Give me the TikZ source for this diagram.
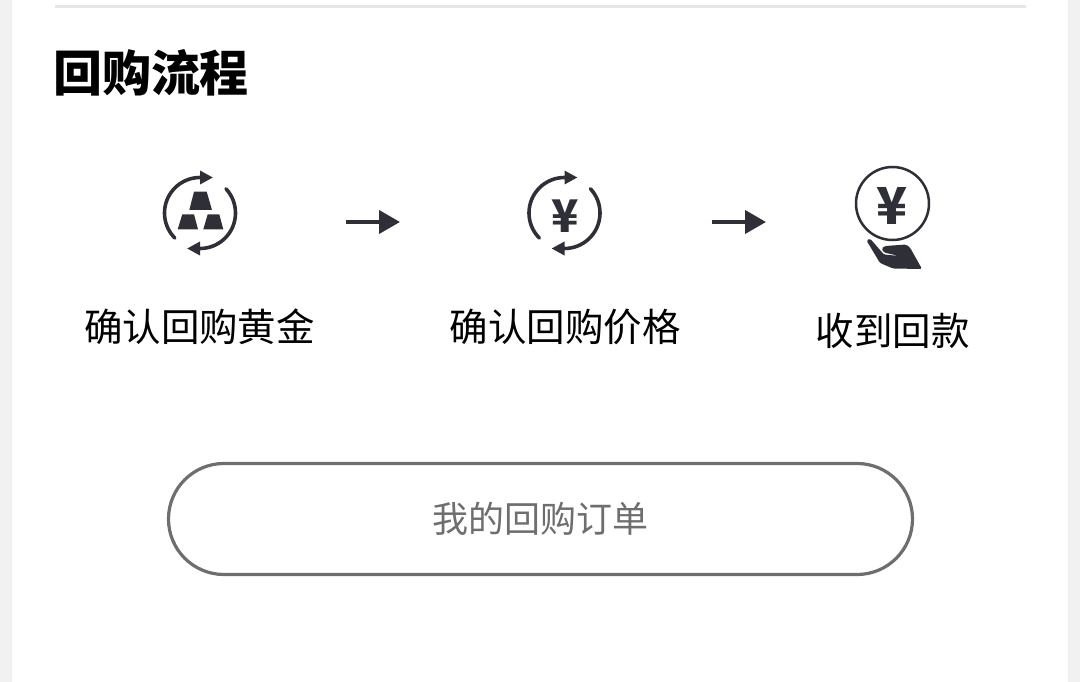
\documentclass[tikz,border=0pt]{standalone}
\usepackage{fontspec}
\setmainfont{Noto Sans CJK SC}
\usetikzlibrary{arrows.meta}
\definecolor{inkdark}{HTML}{2F2F38}
\definecolor{sidegray}{HTML}{F1F1F1}
\definecolor{rulegray}{HTML}{E6E6E6}
\definecolor{btngray}{HTML}{6E6E6E}
\tikzset{
  every node/.style={inner sep=0pt},
  stage/.style={font=\fontsize{38.5}{38.5}\selectfont, text=black},
  flowarrow/.style={inkdark, line width=4pt, -{Triangle[length=21pt,width=23pt]}},
  ringarc/.style={inkdark, line width=3.6pt, line cap=round, -{Triangle[length=13pt,width=13pt]}},
  yuan/.style={font=\fontsize{#1}{#1}\selectfont\bfseries, text=inkdark}
}

\begin{document}
\begin{tikzpicture}[x=1pt,y=-1pt]
  \useasboundingbox (0,0) rectangle (1080,682);
  \fill[sidegray] (0,0) rectangle (12,682);
  \fill[sidegray] (1068,0) rectangle (1080,682);
  \draw[rulegray, line width=3pt] (55,7) -- (1026,7);
  \node (title) at (151,73) {\fontsize{49}{49}\selectfont\bfseries 回购流程};

  % the two ring icons
  \foreach \cx/\nm in {200/gold,564.5/price} {
    \coordinate (\nm) at (\cx,213);
    \draw[ringarc] (\nm) ++(225:35.5pt) arc[start angle=225,end angle=90,radius=35.5pt] -- ++(13pt,0pt);
    \draw[ringarc] (\nm) ++(43:35.5pt) arc[start angle=43,end angle=-90,radius=35.5pt] -- ++(-13pt,0pt);
  }
  \fill[inkdark] (194,191.7) -- (206.7,191.7) -- (212,210) -- (189.3,210) -- cycle;
  \fill[inkdark] (182.3,214.3) -- (194,214.3) -- (198,229.3) -- (177.7,229.3) -- cycle;
  \fill[inkdark] (207.7,214.3) -- (219.3,214.3) -- (223.3,229.3) -- (203.3,229.3) -- cycle;
  \node[yuan=45] (yuanb) at (565,216) {¥};

  % coin in the hand
  \node[draw=inkdark, line width=2.5pt, circle, minimum size=73pt] (coin) at (892.5,203.5) {};
  \node[yuan=51] (yuanc) at (892.5,206) {¥};
  \fill[inkdark, rounded corners=1.5pt] (866.5,240.5) -- (870,238.5) -- (880,250) -- (884,254.5)
    -- (899,256) -- (884,252.5) -- (881.5,248.5) -- (885,246) -- (906,244.5) -- (910,247.5)
    -- (922,269) -- (893,268.5) -- (880,263) -- cycle;

  % arrows between the steps
  \foreach \nm/\xa/\xb in {one/346/400,two/712/766} {
    \coordinate (\nm s) at (\xa,222);
    \coordinate (\nm e) at (\xb,222);
    \draw[flowarrow] (\nm s) -- (\nm e);
  }

  \node[stage] (stepa) at (199.5,327) {确认回购黄金};
  \node[stage] (stepb) at (565,327) {确认回购价格};
  \node[stage] (stepc) at (892.5,331) {收到回款};

  \node[draw=btngray, line width=3.2pt, rounded corners=55.4pt, minimum width=744pt, minimum height=111pt,
    text=btngray, font=\fontsize{36}{36}\selectfont] (orders) at (540.5,519) {我的回购订单};
\end{tikzpicture}
\end{document}
